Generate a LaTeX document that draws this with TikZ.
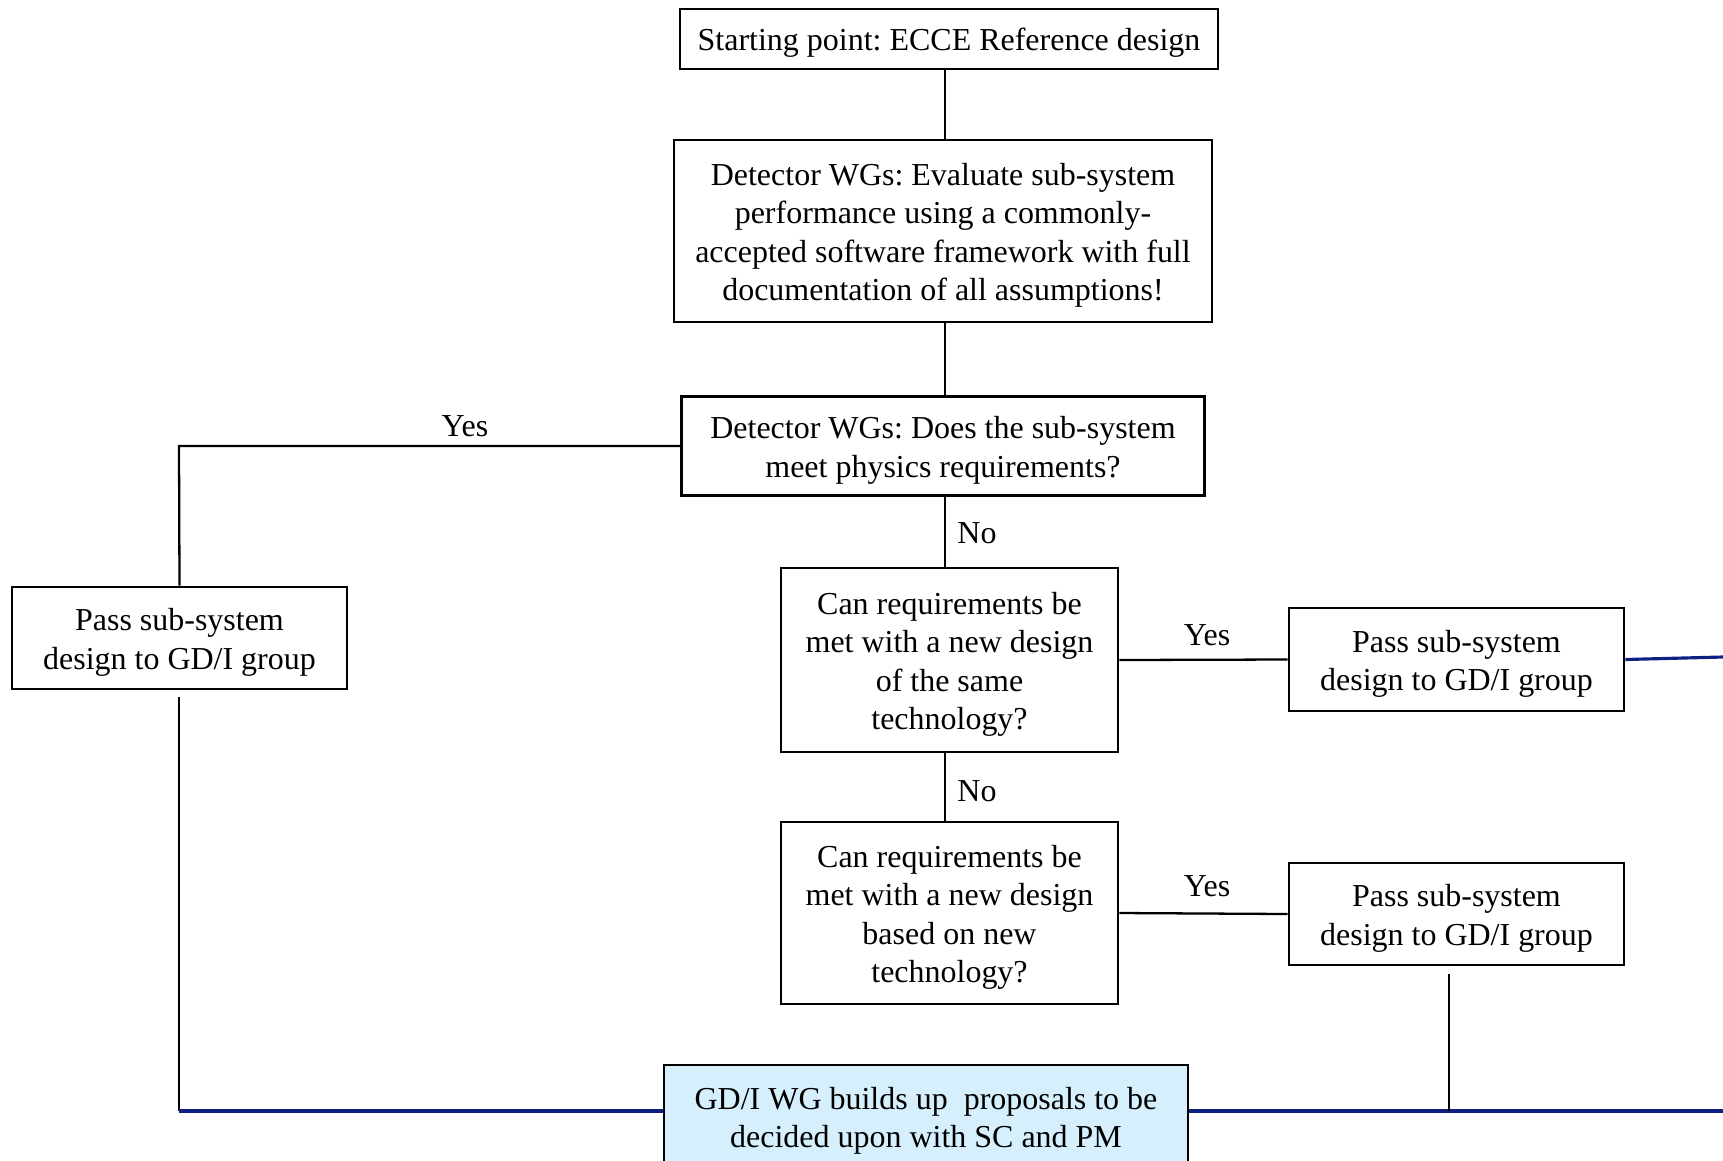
\documentclass[tikz,border=0pt]{standalone}
\usepackage{fontspec}
\setmainfont{Liberation Serif}
\frenchspacing
\usetikzlibrary{positioning}
\definecolor{busblue}{RGB}{16,32,128}
\definecolor{gdfill}{RGB}{214,239,252}
\newcommand{\topgap}{\rule{0pt}{17.4pt}}
\tikzset{
  box/.style={draw, line width=1.5pt, align=center, inner sep=0pt, font=\fontsize{18.2}{21.9}\selectfont},
  link/.style={line width=1.3pt},
  bus/.style={line width=1.8pt, draw=busblue},
  lbl/.style={font=\fontsize{18.2}{21.9}\selectfont}
}
\begin{document}
\begin{tikzpicture}[x=0.02cm, y=-0.02cm]
\useasboundingbox (0,0) rectangle (1723,1160);
% main column
\node [box, minimum width=10.76cm, minimum height=1.2cm] (start) at (949,39) {\topgap Starting point: ECCE Reference design};
\node [box, minimum width=10.76cm, minimum height=3.64cm] (evaluate) at (943,231) {\topgap Detector WGs: Evaluate sub-system\\ performance using a commonly-\\ accepted software framework with full\\ documentation of all assumptions!};
\node [box, minimum width=10.46cm, minimum height=1.98cm] (meet) at (943,446) {\topgap Detector WGs: Does the sub-system\\ meet physics requirements?};
\node [box, minimum width=6.74cm, minimum height=3.68cm] (same) at (949.5,660) {\topgap Can requirements be\\ met with a new design\\ of the same\\ technology?};
\node [box, minimum width=6.74cm, minimum height=3.64cm] (newtech) at (949.5,913) {\topgap Can requirements be\\ met with a new design\\ based on new\\ technology?};
\node [box, fill=gdfill, minimum width=10.48cm, minimum height=2.06cm] (gdi) at (926,1116.5) {\topgap GD/I WG builds up\ \ proposals to be\\ decided upon with SC and PM};
% pass boxes
\node [box, minimum width=6.7cm, minimum height=2.04cm] (passL) at (179.5,638) {\topgap Pass sub-system\\ design to GD/I group};
\node [box, minimum width=6.7cm, minimum height=2.06cm] (passA) at (1456.5,659.5) {\topgap Pass sub-system\\ design to GD/I group};
\node [box, minimum width=6.7cm, minimum height=2.04cm] (passB) at (1456.5,914) {\topgap Pass sub-system\\ design to GD/I group};
% free ends
\coordinate (edgeA) at (1723,657);
\coordinate (busL) at (179,1111);
\coordinate (busR) at (1723,1111);
\coordinate (leftdrop) at (179,697);
\coordinate (rightdrop) at (1449,974);
% connectors
\draw [link] (945,69) -- (945,140);
\draw [link] (945,322) -- (945,397);
\draw [link] (meet.west) -- (179,446) -- (passL.north);
\node [lbl] (yes1) at (465,426) {Yes};
\draw [link] (945,496) -- (945,568);
\node [lbl] (no1) at (977,533) {No};
\draw [link] (945,752) -- (945,822);
\node [lbl] (no2) at (977,791) {No};
\draw [link] (same.east) -- (passA.west);
\node [lbl] (yes2) at (1207,635) {Yes};
\draw [link] (newtech.east) -- (passB.west);
\node [lbl] (yes3) at (1207,886) {Yes};
\draw [bus] (passA.east) -- (edgeA);
\draw [link] (leftdrop) -- (busL);
\draw [bus] (busL) -- (busL -| gdi.west);
\draw [bus] (busR -| gdi.east) -- (busR);
\draw [link] (rightdrop) -- (rightdrop |- busR);
\end{tikzpicture}
\end{document}
